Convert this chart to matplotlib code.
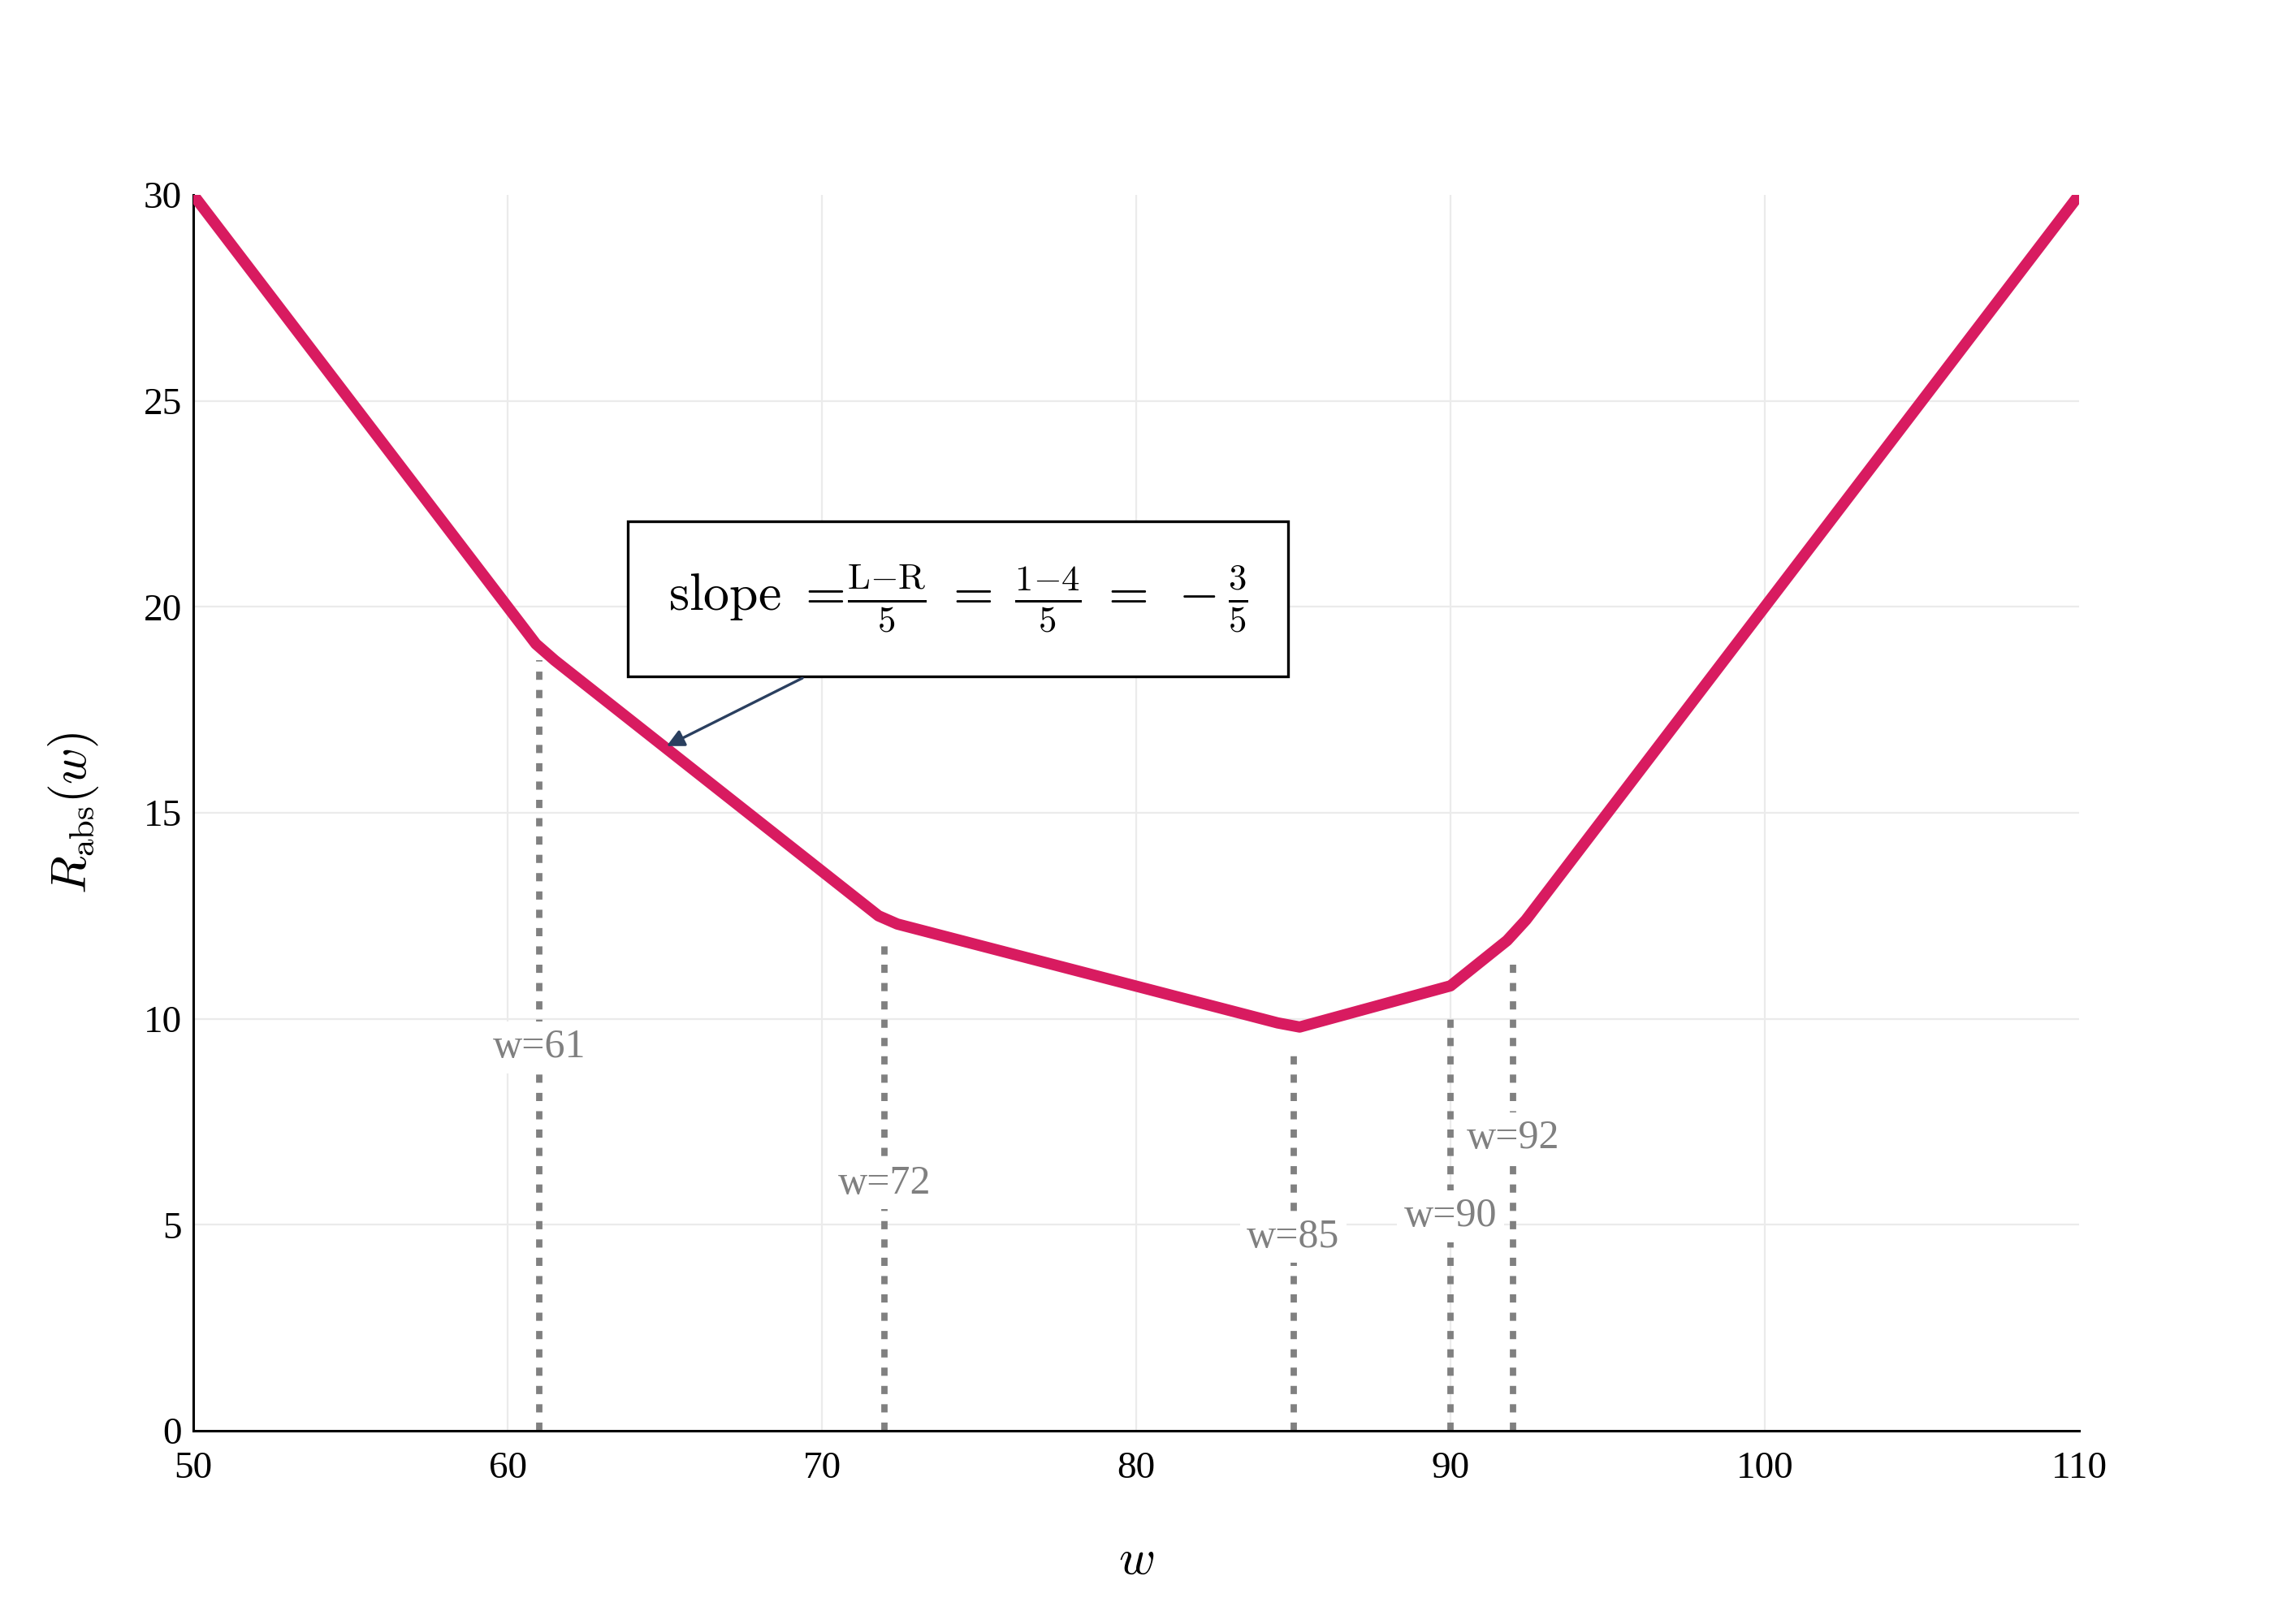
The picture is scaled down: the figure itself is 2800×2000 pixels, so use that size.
import matplotlib
matplotlib.use("Agg")
import matplotlib.pyplot as plt
from matplotlib.patches import Rectangle

# polyline vertices of R_abs(w)
w_vals = [50, 60.9, 61.5, 71.8, 72.4, 84.5, 85.2, 90.0, 91.8, 92.4, 110]
r_vals = [30, 19.1, 18.7, 12.5, 12.3, 9.9, 9.8, 10.8, 11.9, 12.4, 30]

# data points marked with dotted lines
marks = [61, 72, 85, 90, 92]
mark_tops = [18.7, 11.9, 9.3, 10.2, 11.5]
label_y = [9.3, 6.0, 4.7, 5.2, 7.1]
mark_labels = ["w=61", "w=72", "w=85", "w=90", "w=92"]

x_ticks = [50, 60, 70, 80, 90, 100, 110]
y_ticks = [0, 5, 10, 15, 20, 25, 30]

plt.rcParams['font.family'] = ['Liberation Serif', 'DejaVu Serif']
plt.rcParams['mathtext.fontset'] = 'cm'

fig = plt.figure(figsize=(14, 10), dpi=200)
ax = fig.add_axes([0.085, 0.119, 0.8293, 0.761])

ax.set_xlim(50, 110)
ax.set_ylim(0, 30)
ax.set_xticks(x_ticks)
ax.set_yticks(y_ticks)
ax.grid(True, color='#ebebeb', lw=0.8, zorder=0)
ax.set_axisbelow(True)
ax.get_ygridlines()[-1].set_visible(False)
ax.get_xgridlines()[-1].set_visible(False)
for s in ['top', 'right']:
    ax.spines[s].set_visible(False)
for s in ['left', 'bottom']:
    ax.spines[s].set_linewidth(1.1)
    ax.spines[s].set_color('black')
ax.tick_params(axis='x', length=0, pad=9, labelsize=17)
ax.tick_params(axis='y', length=0, pad=5, labelsize=17)

# dotted markers with labels
for x, top, ly, lab in zip(marks, mark_tops, label_y, mark_labels):
    ax.plot([x, x], [0, top], color='#808080', lw=2.8,
            linestyle=(0, (1.3, 1.6)), solid_capstyle='butt', zorder=2)
    ax.text(x, ly, lab, color='#808080', fontsize=18, ha='center', va='center',
            zorder=4, bbox=dict(facecolor='white', edgecolor='none', pad=3))

# main curve
ax.plot(w_vals, r_vals, color='#D81B60', lw=5, solid_joinstyle='round',
        solid_capstyle='butt', zorder=3)

# annotation box with slope
ax.add_patch(Rectangle((63.82, 18.31), 21.01, 3.77, facecolor='white',
                       edgecolor='black', lw=1.2, zorder=5))
ax.text(74.33, 20.2,
        r"$\mathrm{slope}\ =\! \frac{\mathrm{L{-}R}}{5} \;=\; \frac{1{-}4}{5} \;=\; -\frac{3}{5}$",
        fontsize=23, ha='center', va='center', zorder=6)
ax.annotate('', xy=(65.06, 16.62), xytext=(69.38, 18.27),
            arrowprops=dict(arrowstyle='-|>', color='#2a3f5f', lw=1.2,
                            mutation_scale=16, shrinkA=0, shrinkB=0),
            zorder=6)

ax.text(0.5, -0.1058, r"$w$", transform=ax.transAxes, fontsize=22,
        ha='center', va='center')
ax.text(-0.0637, 0.5, r"$R_{\mathrm{abs}}(w)$", transform=ax.transAxes,
        fontsize=22, ha='center', va='center', rotation=90)

fig.savefig("out.png", dpi=200, facecolor='white')
